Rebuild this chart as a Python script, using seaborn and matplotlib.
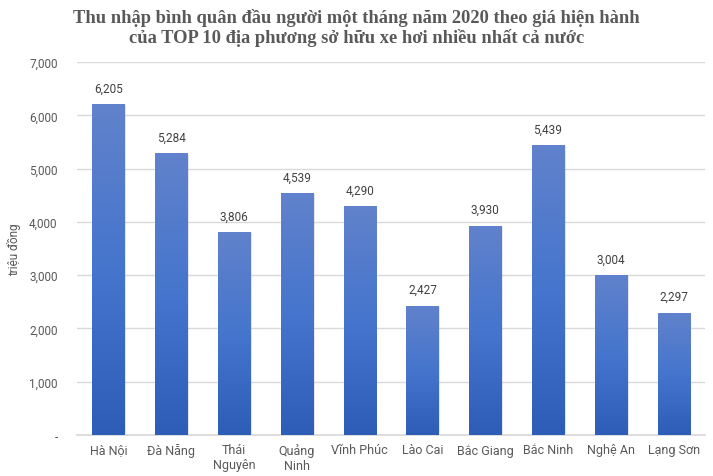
import matplotlib
matplotlib.use("Agg")
import matplotlib.pyplot as plt
import seaborn as sns
import numpy as np
import pandas as pd
from matplotlib.colors import LinearSegmentedColormap

categories = ["Hà Nội", "Đà Nẵng", "Thái\nNguyên", "Quảng\nNinh", "Vĩnh Phúc",
              "Lào Cai", "Bắc Giang", "Bắc Ninh", "Nghệ An", "Lạng Sơn"]
values = [6205, 5284, 3806, 4539, 4290, 2427, 3930, 5439, 3004, 2297]
yticks = [0, 1000, 2000, 3000, 4000, 5000, 6000, 7000]
ytick_labels = ["-", "1,000", "2,000", "3,000", "4,000", "5,000", "6,000", "7,000"]
title = "Thu nhập bình quân đầu người một tháng năm 2020 theo giá hiện hành\ncủa TOP 10 địa phương sở hữu xe hơi nhiều nhất cả nước"
ylabel = "triệu đồng"

sns.set_theme(style="white")
plt.rcParams['font.family'] = ['Roboto', 'DejaVu Sans']
gray = "#595959"

df = pd.DataFrame({"cat": categories, "val": values})
fig = plt.figure(figsize=(7.13, 4.77), dpi=100)
ax = fig.add_axes([77/713, 1-436/477, (705-77)/713, (436-63)/477])

sns.barplot(data=df, x="cat", y="val", ax=ax, color="#4472C4", width=0.51,
            saturation=1, zorder=3)

ax.set_ylim(0, 7000)
ax.set_xlim(-0.5, len(categories) - 0.5)
ax.set_yticks(yticks)
ax.set_yticklabels(ytick_labels, color=gray, fontsize=8.5)
ax.tick_params(axis='y', length=0, pad=14)
ax.tick_params(axis='x', length=0, pad=6, labelsize=9, labelcolor=gray)
ax.grid(axis='y', color="#D9D9D9", linewidth=1, zorder=0)
for s in ["top", "right", "left"]:
    ax.spines[s].set_visible(False)
ax.spines["bottom"].set_color("#D9D9D9")
ax.set_xlabel("")
ax.set_ylabel(ylabel, color=gray, fontsize=8.5)
ax.yaxis.set_label_coords(-0.089, 0.5)

# gradient fill
cmap = LinearSegmentedColormap.from_list("g", ["#2E5DB8", "#4575CD", "#6182CB"])
grad = np.linspace(0, 1, 256).reshape(-1, 1)
for p in list(ax.patches):
    x0, y0 = p.get_x(), p.get_y()
    w, h = p.get_width(), p.get_height()
    sh = plt.Rectangle((x0 + 0.03, y0), w, h - 20, color="#000000", alpha=0.12, zorder=2, lw=0)
    ax.add_patch(sh)
    im = ax.imshow(grad, extent=[x0, x0 + w, y0, y0 + h], origin="lower", cmap=cmap,
                   aspect="auto", zorder=3.5)
    im.set_clip_path(p)
ax.set_xlim(-0.5, len(categories) - 0.5)
ax.set_ylim(0, 7000)

for i, v in enumerate(values):
    ax.text(i, v + 180, f"{v:,}", ha="center", va="bottom", fontsize=8.5, color="#404040", zorder=5)

fig.text(0.5, 0.982, title, ha="center", va="top", fontsize=13.3, fontweight="bold",
         color=gray, family=["Liberation Serif", "DejaVu Serif"], linespacing=1.2)

fig.savefig("out.png", dpi=100)
